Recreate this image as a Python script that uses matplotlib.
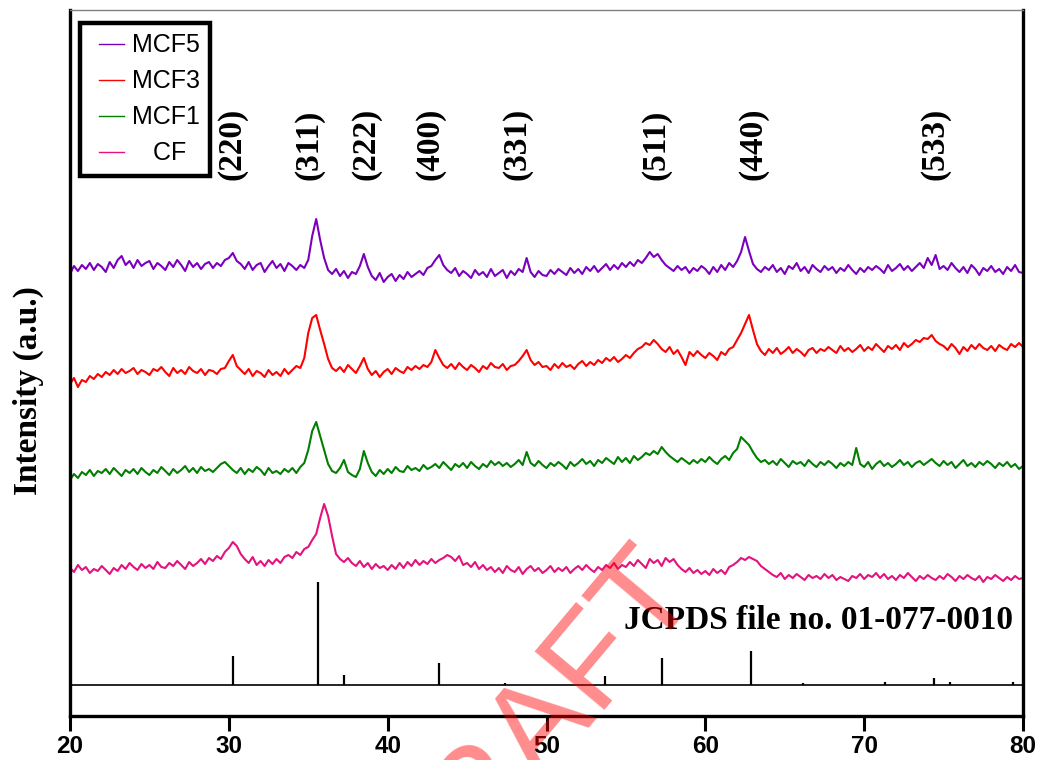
import numpy as np
import matplotlib
matplotlib.use("Agg")
import matplotlib.pyplot as plt
from matplotlib.legend_handler import HandlerLine2D

# scan axis, 0.25 deg steps from 20 to 80
two_theta = np.arange(20, 80.01, 0.25)

# intensities (a.u.), one line per degree
mcf5 = [22, 30, 25, 31, 27, 33, 26, 32, 29, 24, 34, 28, 36, 40, 31, 35,
        28, 36, 30, 33, 35, 27, 33, 30, 26, 34, 29, 36, 31, 25, 35, 29,
        33, 27, 32, 34, 28, 33, 30, 36, 38, 43, 35, 32, 27, 34, 26, 31,
        33, 24, 30, 35, 28, 32, 25, 33, 30, 26, 31, 28, 36, 60, 77, 56,
        38, 26, 22, 27, 20, 25, 18, 24, 22, 30, 42, 29, 20, 16, 23, 14,
        19, 22, 15, 21, 17, 24, 19, 22, 25, 21, 28, 30, 36, 41, 31, 26,
        23, 28, 20, 25, 22, 18, 26, 21, 24, 19, 27, 20, 23, 26, 18, 25,
        21, 27, 24, 38, 24, 19, 25, 21, 20, 26, 22, 27, 24, 21, 28, 23,
        27, 22, 29, 25, 30, 24, 28, 32, 26, 31, 27, 33, 29, 34, 30, 36,
        33, 38, 44, 39, 42, 36, 31, 28, 25, 30, 26, 29, 23, 28, 25, 30,
        27, 22, 29, 24, 31, 26, 33, 29, 35, 44, 59, 45, 32, 27, 24, 29,
        26, 31, 24, 28, 22, 30, 27, 33, 25, 29, 23, 31, 27, 24, 30, 26,
        29, 23, 28, 25, 31, 26, 22, 28, 24, 29, 26, 30, 27, 23, 31, 25,
        28, 32, 26, 30, 25, 29, 33, 28, 38, 31, 41, 27, 30, 26, 33, 28,
        24, 29, 23, 31, 27, 21, 28, 25, 30, 24, 27, 22, 29, 25, 31, 24,
        23]
mcf3 = [12, 18, 9, 16, 14, 20, 17, 22, 19, 24, 21, 26, 22, 27, 23, 25,
        28, 22, 26, 24, 21, 27, 25, 29, 24, 20, 28, 23, 26, 22, 29, 25,
        23, 27, 21, 26, 25, 22, 27, 28, 35, 41, 30, 26, 22, 27, 20, 25,
        23, 19, 26, 21, 24, 20, 27, 22, 26, 30, 28, 38, 63, 78, 81, 66,
        52, 37, 28, 25, 29, 24, 31, 27, 23, 30, 38, 27, 21, 25, 19, 24,
        27, 22, 28, 25, 23, 29, 26, 30, 27, 31, 29, 34, 46, 38, 31, 28,
        32, 27, 33, 29, 26, 31, 28, 24, 30, 27, 33, 29, 28, 32, 26, 30,
        31, 35, 40, 46, 36, 31, 34, 29, 30, 26, 32, 28, 33, 29, 31, 27,
        32, 35, 30, 34, 31, 36, 33, 38, 35, 39, 34, 37, 41, 38, 43, 47,
        49, 53, 51, 56, 52, 47, 44, 49, 42, 46, 39, 31, 44, 40, 45, 41,
        38, 43, 40, 36, 44, 41, 47, 49, 56, 63, 72, 81, 66, 52, 45, 41,
        47, 43, 48, 42, 45, 49, 43, 47, 44, 40, 46, 48, 43, 47, 45, 49,
        46, 43, 50, 45, 48, 44, 47, 51, 45, 49, 46, 52, 48, 44, 50, 47,
        51, 46, 53, 49, 52, 56, 54, 58, 57, 61, 55, 52, 50, 46, 52, 48,
        42, 49, 45, 51, 47, 52, 48, 46, 50, 45, 51, 48, 46, 52, 49, 53,
        49]
mcf1 = [11, 17, 13, 19, 16, 21, 15, 20, 18, 22, 17, 23, 19, 15, 21, 18,
        22, 17, 23, 19, 16, 21, 18, 24, 20, 16, 22, 18, 21, 25, 19, 23,
        18, 24, 20, 22, 19, 23, 27, 29, 25, 21, 18, 23, 17, 22, 19, 24,
        21, 16, 23, 18, 20, 17, 22, 19, 23, 18, 24, 28, 41, 60, 69, 55,
        41, 27, 20, 18, 23, 31, 19, 16, 14, 22, 40, 28, 19, 15, 21, 17,
        22, 18, 24, 20, 19, 25, 21, 23, 20, 26, 22, 24, 27, 23, 29, 25,
        21, 27, 24, 28, 23, 29, 25, 22, 27, 24, 30, 26, 29, 25, 28, 24,
        27, 31, 26, 39, 28, 25, 30, 26, 23, 28, 25, 29, 26, 22, 29, 25,
        28, 32, 27, 30, 25, 31, 28, 33, 30, 27, 34, 29, 33, 28, 35, 31,
        34, 38, 36, 40, 37, 44, 39, 35, 32, 29, 33, 30, 27, 31, 28, 32,
        29, 34, 30, 27, 32, 35, 31, 38, 42, 54, 50, 46, 39, 33, 29, 31,
        27, 30, 26, 32, 28, 24, 30, 27, 29, 25, 31, 27, 24, 29, 26, 30,
        27, 23, 28, 25, 29, 26, 43, 27, 24, 29, 22, 27, 30, 25, 28, 24,
        27, 31, 26, 29, 24, 28, 30, 26, 29, 32, 28, 25, 30, 26, 29, 23,
        27, 31, 25, 28, 24, 29, 26, 30, 27, 23, 28, 25, 29, 24, 27, 22,
        25]
cf = [28, 24, 31, 26, 29, 23, 27, 25, 30, 26, 22, 28, 25, 31, 27, 33,
      29, 26, 32, 28, 31, 27, 34, 29, 28, 33, 30, 35, 31, 27, 34, 30,
      33, 37, 32, 38, 35, 40, 37, 44, 48, 54, 50, 42, 37, 33, 39, 31,
      35, 30, 36, 32, 37, 33, 39, 41, 38, 44, 41, 47, 49, 56, 62, 78,
      92, 80, 60, 42, 37, 34, 38, 33, 30, 35, 29, 33, 27, 32, 28, 30,
      26, 31, 27, 33, 28, 34, 30, 36, 31, 35, 32, 37, 33, 36, 38, 41,
      39, 35, 40, 31, 33, 29, 34, 27, 31, 26, 29, 24, 28, 23, 30, 26,
      24, 29, 22, 27, 30, 25, 28, 23, 26, 30, 24, 28, 25, 29, 23, 27,
      30, 26, 31, 27, 24, 29, 26, 31, 28, 33, 27, 31, 29, 34, 30, 36,
      32, 28, 37, 33, 36, 30, 38, 34, 37, 31, 27, 24, 28, 23, 26, 22,
      25, 21, 27, 23, 26, 22, 29, 31, 34, 38, 36, 39, 37, 35, 30, 27,
      24, 21, 19, 23, 17, 21, 18, 22, 19, 16, 21, 18, 20, 17, 22, 18,
      21, 16, 19, 17, 15, 20, 18, 22, 17, 21, 19, 23, 18, 22, 17, 20,
      16, 21, 18, 23, 19, 15, 20, 17, 21, 18, 16, 20, 17, 22, 19, 15,
      20, 17, 21, 18, 16, 20, 14, 19, 17, 21, 18, 15, 19, 16, 20, 17,
      18]

names = ["MCF5", "MCF3", "MCF1", "   CF"]
colors = ["#7B00BE", "#FF0000", "#007F00", "#E3127F"]
offsets = [420, 320, 225, 120]

# reference pattern JCPDS 01-077-0010
jcpds_pos = [30.24, 35.59, 37.23, 43.25, 47.39, 53.68, 57.25, 62.86, 66.12,
             71.31, 74.40, 75.38, 79.35]
jcpds_int = [29, 103, 10, 22, 2, 9, 27, 34, 2, 3, 7, 3, 3]
stick_base = 31

hkl = ["(220)", "(311)", "(222)", "(400)", "(331)", "(511)", "(440)", "(533)"]
hkl_pos = [30.2, 35.05, 38.64, 42.67, 48.14, 56.89, 63.0, 74.46]

fig = plt.figure(figsize=(10.39, 7.6), dpi=100)
ax = fig.add_axes([70/1039, 44/760, 953/1039, 706/760])

for y, name, c, off in zip([mcf5, mcf3, mcf1, cf], names, colors, offsets):
    ax.plot(two_theta, np.array(y) + off, color=c, lw=1.5, label=name)

ax.axhline(stick_base, color="black", lw=1.2)
ax.vlines(jcpds_pos, stick_base, stick_base + np.array(jcpds_int),
          color="black", lw=1.6)

for lab, p in zip(hkl, hkl_pos):
    ax.text(p, 536, lab, rotation=90, ha="center", va="bottom",
            family="Liberation Serif", fontweight="bold", fontsize=24)

ax.text(79.37, 87, "JCPDS file no. 01-077-0010", ha="right", va="baseline",
        family="Liberation Serif", fontweight="bold", fontsize=24)

ax.set_xlim(20, 80)
ax.set_ylim(0, 706)
ax.set_yticks([])
ax.set_xticks([20, 30, 40, 50, 60, 70, 80])
ax.tick_params(axis="x", direction="out", length=11, width=2.2, pad=3,
               labelsize=17.5)
for t in ax.get_xticklabels():
    t.set_family("Liberation Sans")
    t.set_fontweight("bold")
for s in ["left", "bottom", "right"]:
    ax.spines[s].set_linewidth(2.4)
ax.spines["top"].set_linewidth(1.0)
ax.spines["top"].set_color("#808080")

leg = ax.legend(loc="upper left", bbox_to_anchor=(0.0105, 0.9816),
                borderaxespad=0, fancybox=False, framealpha=1,
                edgecolor="black", handlelength=1.35, handletextpad=0.3,
                labelspacing=0.48, borderpad=0.42,
                handler_map={plt.Line2D: HandlerLine2D(xpad=0.35)},
                prop={"family": "Liberation Sans", "size": 18})
leg.get_frame().set_linewidth(3.2)
for l in leg.get_lines():
    l.set_linewidth(1.0)

fig.text(28/1039, 1 - 391/760, "Intensity (a.u.)", rotation=90,
         ha="center", va="center", family="Liberation Serif",
         fontweight="bold", fontsize=24)

# watermark, cut by the lower edge as in the source
fig.text(530/1039, 1 - 732/760, "DRAFT", rotation=50, ha="center",
         va="center", rotation_mode="anchor", family="Liberation Sans",
         fontsize=95, color="#FF0000", alpha=0.45)

fig.savefig("out.png", dpi=100)
